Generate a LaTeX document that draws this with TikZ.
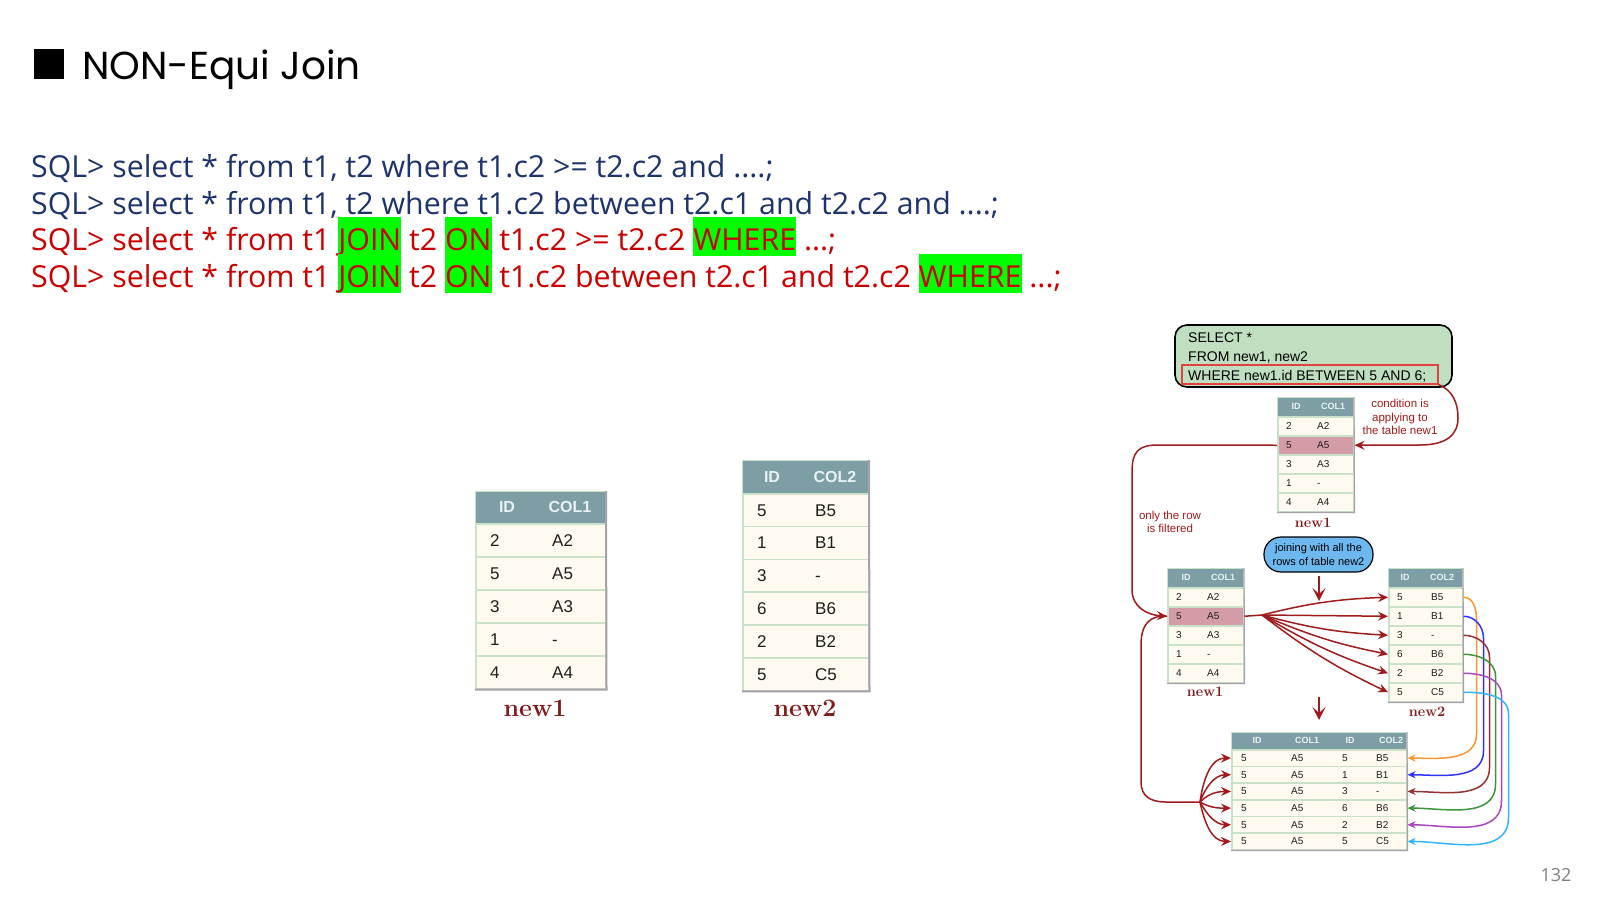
\documentclass[tikz,border=0pt]{standalone}
\usepackage{fontspec}
\setsansfont{Liberation Sans}
\newfontfamily\sqlfont{Open Sans}
\newfontfamily\titlefont{Poppins}
\usetikzlibrary{arrows.meta,calc,positioning}

\definecolor{sqlnavy}{RGB}{30,52,108}
\definecolor{sqlred}{RGB}{204,0,0}
\definecolor{hlgreen}{RGB}{0,255,0}
\definecolor{hdgray}{RGB}{126,158,166}
\definecolor{hdtext}{RGB}{232,242,244}
\definecolor{cream}{RGB}{255,250,240}
\definecolor{sepgreen}{RGB}{200,226,200}
\definecolor{edgegray}{RGB}{168,160,168}
\definecolor{pickrow}{RGB}{212,156,166}
\definecolor{celltext}{RGB}{30,30,30}
\definecolor{darkred}{RGB}{160,28,28}
\definecolor{lblred}{RGB}{130,28,28}
\definecolor{boxgreen}{RGB}{192,222,192}
\definecolor{boxred}{RGB}{228,64,64}
\definecolor{bubble}{RGB}{110,184,240}
\definecolor{corange}{RGB}{255,150,50}
\definecolor{cblue}{RGB}{50,50,255}
\definecolor{cbrown}{RGB}{150,50,50}
\definecolor{cgreen}{RGB}{60,150,60}
\definecolor{cpurple}{RGB}{170,70,190}
\definecolor{csky}{RGB}{50,180,255}
\definecolor{pagegray}{RGB}{128,128,128}

\newcommand{\hlword}[1]{{\setlength{\fboxsep}{0pt}\colorbox{hlgreen}{\rule[-6pt]{0pt}{39pt}#1}}}

\begin{document}
\begin{tikzpicture}[x=1pt,y=1pt,
  sqlline/.style={anchor=base west, inner sep=0pt, font=\sqlfont\fontsize{30.3}{34}\selectfont},
  hdrow/.style={anchor=north west, fill=hdgray, draw=sepgreen, line width=1pt, inner sep=0pt},
  datrow/.style={anchor=north west, draw=sepgreen, line width=1.5pt, inner sep=0pt},
  edgeline/.style={draw=edgegray, line width=2pt},
  bighd/.style={text=hdtext, inner sep=0pt, font=\sffamily\bfseries\fontsize{16}{16}\selectfont},
  bigdat/.style={anchor=west, inner sep=0pt, text=celltext, text height=12pt, font=\sffamily\fontsize{17}{17}\selectfont},
  smallhd/.style={text=hdtext, inner sep=0pt, font=\sffamily\bfseries\fontsize{9}{9}\selectfont},
  smalldat/.style={anchor=west, inner sep=0pt, text=celltext, text height=7pt, font=\sffamily\fontsize{10}{10}\selectfont},
  tname/.style={text=lblred, inner sep=0pt, font=\bfseries\fontsize{25}{25}\selectfont},
  sname/.style={text=lblred, inner sep=0pt, font=\bfseries\fontsize{14.5}{14.5}\selectfont},
  qtxt/.style={anchor=base west, inner sep=0pt, font=\sffamily\fontsize{14}{14}\selectfont},
  note/.style={text=darkred, align=center, inner sep=0pt, font=\sffamily\fontsize{11.5}{13.5}\selectfont},
  redline/.style={draw=darkred, line width=1.5pt},
  redarr/.style={redline, -{Stealth[length=10pt,width=9pt,inset=3.5pt]}},
  downarr/.style={draw=darkred, line width=2.2pt, -{Stealth[length=13pt,width=13pt,inset=6pt]}},
  colarr/.style={line width=1.5pt, -{Stealth[length=8pt,width=7pt,inset=2.5pt]}}]

\useasboundingbox[fill=white] (0,0) rectangle (1600,-900);

% title
\node[fill=black, minimum size=30, inner sep=0pt] (sq) at (49,-64) {};
\node[anchor=base west, inner sep=0pt, font=\titlefont\fontsize{39}{39}\selectfont] (title) at (82,-79) {NON-Equi Join};

% sql lines
\node[sqlline, text=sqlnavy] (q1) at (31,-177) {SQL> select * from t1, t2 where t1.c2 >= t2.c2 and ....;};
\node[sqlline, text=sqlnavy] (q2) at (31,-214) {SQL> select * from t1, t2 where t1.c2 between t2.c1 and t2.c2 and ....;};
\node[sqlline, text=sqlred] (q3) at (31,-250) {SQL> select * from t1 \hlword{JOIN} t2 \hlword{ON} t1.c2 >= t2.c2 \hlword{WHERE} ...;};
\node[sqlline, text=sqlred] (q4) at (31,-287) {SQL> select * from t1 \hlword{JOIN} t2 \hlword{ON} t1.c2 between t2.c1 and t2.c2 \hlword{WHERE} ...;};

% new1 (big)
\node[hdrow, minimum width=130, minimum height=32] (a0) at (475,-491) {};
\node[bighd] (a0-i) at (507,-507) {ID};
\node[bighd] (a0-c) at (570,-507) {COL1};
\foreach \a/\b [count=\k] in {2/A2,5/A5,3/A3,1/-,4/A4} {
  \node[datrow, fill=cream, minimum width=130, minimum height=33] (a\k) at (475,{-523-33*(\k-1)}) {};
  \node[bigdat] (a\k-i) at ([xshift=15]a\k.west) {\a};
  \node[bigdat] (a\k-c) at ([xshift=77]a\k.west) {\b};
}
\draw[edgeline] (a0.north east) -- (a5.south east) -- (a5.south west);
\node[tname] (a-name) at (535,-708) {new1};

% new2 (big)
\node[hdrow, minimum width=126, minimum height=33] (b0) at (742,-460) {};
\node[bighd] (b0-i) at (772,-476.5) {ID};
\node[bighd] (b0-c) at (835,-476.5) {COL2};
\foreach \a/\b [count=\k] in {5/B5,1/B1,3/-,6/B6,2/B2,5/C5} {
  \node[datrow, fill=cream, minimum width=126, minimum height=32.8] (b\k) at (742,{-493-32.8*(\k-1)}) {};
  \node[bigdat] (b\k-i) at ([xshift=15]b\k.west) {\a};
  \node[bigdat] (b\k-c) at ([xshift=73]b\k.west) {\b};
}
\draw[edgeline] (b0.north east) -- (b6.south east) -- (b6.south west);
\node[tname] (b-name) at (805,-708) {new2};

% query box
\node[draw=black, line width=1.6pt, fill=boxgreen, rounded corners=12pt, minimum width=277, minimum height=62] (qbox) at (1313.5,-356) {};
\node[qtxt] (qs1) at (1188,-342) {SELECT *};
\node[qtxt] (qs2) at (1188,-361) {FROM new1, new2};
\node[qtxt] (qs3) at (1188,-380) {WHERE new1.id BETWEEN 5 AND 6;};
\node[draw=boxred, line width=1.3pt, minimum width=256, minimum height=19, inner sep=0pt] (whr) at (1310,-374.5) {};

% new1 (small, top)
\node[hdrow, minimum width=76, minimum height=19] (c0) at (1277,-397) {};
\node[smallhd] (c0-i) at (1296,-406.5) {ID};
\node[smallhd] (c0-c) at (1333,-406.5) {COL1};
\foreach \a/\b/\f [count=\k] in {2/A2/cream,5/A5/pickrow,3/A3/cream,1/-/cream,4/A4/cream} {
  \node[datrow, fill=\f, minimum width=76, minimum height=19] (c\k) at (1277,{-416-19*(\k-1)}) {};
  \node[smalldat] (c\k-i) at ([xshift=9]c\k.west) {\a};
  \node[smalldat] (c\k-c) at ([xshift=40]c\k.west) {\b};
}
\draw[edgeline, line width=1.2pt] (c0.north east) -- (c5.south east) -- (c5.south west);
\node[sname] (c-name) at (1313,-523) {new1};
\node[note] (cond) at (1400,-417) {condition is\\applying to\\the table new1};

% new1 (small, filtered)
\node[hdrow, minimum width=76, minimum height=19] (d0) at (1167,-568) {};
\node[smallhd] (d0-i) at (1186,-577.5) {ID};
\node[smallhd] (d0-c) at (1223,-577.5) {COL1};
\foreach \a/\b/\f [count=\k] in {2/A2/cream,5/A5/pickrow,3/A3/cream,1/-/cream,4/A4/cream} {
  \node[datrow, fill=\f, minimum width=76, minimum height=19] (d\k) at (1167,{-587-19*(\k-1)}) {};
  \node[smalldat] (d\k-i) at ([xshift=9]d\k.west) {\a};
  \node[smalldat] (d\k-c) at ([xshift=40]d\k.west) {\b};
}
\draw[edgeline, line width=1.2pt] (d0.north east) -- (d5.south east) -- (d5.south west);
\node[sname] (d-name) at (1205,-692) {new1};
\node[note] (filt) at (1170,-522) {only the row\\is filtered};

% new2 (small)
\node[hdrow, minimum width=74, minimum height=19] (e0) at (1388,-568) {};
\node[smallhd] (e0-i) at (1405,-577.5) {ID};
\node[smallhd] (e0-c) at (1442,-577.5) {COL2};
\foreach \a/\b [count=\k] in {5/B5,1/B1,3/-,6/B6,2/B2,5/C5} {
  \node[datrow, fill=cream, minimum width=74, minimum height=19] (e\k) at (1388,{-587-19*(\k-1)}) {};
  \node[smalldat] (e\k-i) at ([xshift=9]e\k.west) {\a};
  \node[smalldat] (e\k-c) at ([xshift=43]e\k.west) {\b};
}
\draw[edgeline, line width=1.2pt] (e0.north east) -- (e6.south east) -- (e6.south west);
\node[sname] (e-name) at (1427,-712) {new2};

% joining bubble
\node[draw=black, line width=1.2pt, fill=bubble, rounded corners=17pt, minimum width=109, minimum height=35, inner sep=1pt, align=center, font=\sffamily\fontsize{11}{13.5}\selectfont] (join) at (1318.5,-554.5) {joining with all the\\rows of table new2};

% result table
\node[hdrow, minimum width=175, minimum height=17] (f0) at (1231,-732) {};
\node[smallhd] (f0-1) at (1257,-740.5) {ID};
\node[smallhd] (f0-2) at (1307,-740.5) {COL1};
\node[smallhd] (f0-3) at (1350,-740.5) {ID};
\node[smallhd] (f0-4) at (1391,-740.5) {COL2};
\foreach \p/\q [count=\k] in {5/B5,1/B1,3/-,6/B6,2/B2,5/C5} {
  \node[datrow, fill=cream, minimum width=175, minimum height=16.67] (f\k) at (1231,{-749-16.67*(\k-1)}) {};
  \node[smalldat] (f\k-1) at ([xshift=10]f\k.west) {5};
  \node[smalldat] (f\k-2) at ([xshift=60]f\k.west) {A5};
  \node[smalldat] (f\k-3) at ([xshift=111]f\k.west) {\p};
  \node[smalldat] (f\k-4) at ([xshift=145]f\k.west) {\q};
}
\draw[edgeline, line width=1.2pt] (f0.north east) -- (f6.south east) -- (f6.south west);

% connectors
\draw[redarr] (whr.south east) .. controls (1452,-390) and (1458,-402) .. (1458,-418) .. controls (1458,-435) and (1446,-445) .. (1420,-445) -- (c2.east);
\draw[redarr] (c2.west) -- (1158,-445) .. controls (1138,-445) and (1132,-452) .. (1132,-472) -- (1132,-590) .. controls (1132,-606) and (1146,-615) .. (d2.west);

\coordinate (fanA) at (1262,-615);
\draw[redline] (d2.east) -- (fanA);
\draw[redarr] (fanA) to[bend left=6] (e1.west);
\draw[redarr] (fanA) -- (e2.west);
\draw[redarr] (fanA) to[bend right=6] (e3.west);
\draw[redarr] (fanA) to[bend right=6] (e4.west);
\draw[redarr] (fanA) to[bend right=6] (e5.west);
\draw[redarr] (fanA) to[bend right=6] (e6.west);

\coordinate (dn1a) at (1319,-576);
\coordinate (dn1b) at (1319,-601);
\coordinate (dn2a) at (1319,-697);
\coordinate (dn2b) at (1319,-720);
\draw[downarr] (dn1a) -- (dn1b);
\draw[downarr] (dn2a) -- (dn2b);

\coordinate (fanB) at (1200,-802);
\draw[redline] (d2.west) .. controls (1150,-615) and (1141,-624) .. (1141,-645) -- (1141,-782) .. controls (1141,-796) and (1150,-802) .. (1166,-802) -- (fanB);
\foreach \k/\o in {1/82,2/70,3/45,4/-30,5/-62,6/-78}
  \draw[redarr] (fanB) to[out=\o,in=180] (f\k.west);

\foreach \k/\cx/\clr in {1/1475/corange,2/1482/cblue,3/1488/cbrown,4/1494/cgreen,5/1500/cpurple,6/1507/csky}
  \draw[colarr, \clr] (e\k.east) to[out=0,in=90] ($(e\k.east)+(\cx-1462,-22)$) -- ($(f\k.east)+(\cx-1406,24)$) to[out=-90,in=0] (f\k.east);

% page number
\node[text=pagegray, font=\sqlfont\fontsize{18}{18}\selectfont] (pg) at (1556,-875) {132};
\end{tikzpicture}
\end{document}
